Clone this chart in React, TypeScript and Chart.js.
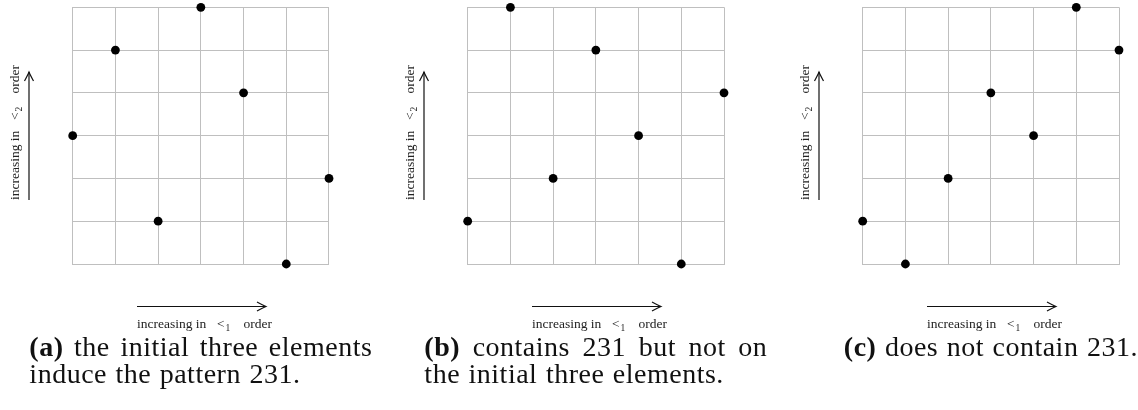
import React, { useEffect, useRef } from "react";
import { Chart, registerables } from "chart.js";

Chart.register(...registerables);

// ---------- data ----------
const positionsLt1 = [0, 1, 2, 3, 4, 5, 6];
const ranksA = [3, 5, 1, 6, 4, 0, 2];
const ranksB = [1, 6, 2, 5, 3, 0, 4];
const ranksC = [1, 0, 2, 4, 3, 6, 5];
const gridMin = 0;
const gridMax = 6;

const xLabelParts = ["increasing in", "<", "1", "order"];
const yLabelParts = ["increasing in", "<", "2", "order"];

const captionTags = ["(a)", "(b)", "(c)"];
const captionLine1 = ["the initial three elements", "contains 231 but not on", "does not contain 231."];
const captionLine2 = ["induce the pattern 231.", "the initial three elements.", ""];

// ---------- layout ----------
const W = 1138;
const H = 410;
const GRID_TOP = 7.3;
const GRID_BOTTOM = 264;
const panelLefts = [72.7, 467.7, 862.7];
const GRID_W = 256.3;
const CAPTION_W = 343;
const CAP_FONT = 28;
const CAP_LS = 0.5;
const LINE1_Y = 356;
const LINE2_Y = 383;
const SERIF = '"Liberation Serif", "Times New Roman", serif';

type Panel = { ranks: number[]; left: number; right: number; idx: number };

function drawArrowHead(ctx: CanvasRenderingContext2D, tipX: number, tipY: number, dir: "right" | "up") {
  ctx.save();
  ctx.translate(tipX, tipY);
  if (dir === "up") ctx.rotate(-Math.PI / 2);
  ctx.beginPath();
  ctx.moveTo(-9, -4.5);
  ctx.quadraticCurveTo(-3, -1.2, 0, 0);
  ctx.quadraticCurveTo(-3, 1.2, -9, 4.5);
  ctx.stroke();
  ctx.restore();
}

// draws axis label in local coords: start at x0, baseline y0
function drawAxisLabel(ctx: CanvasRenderingContext2D, parts: string[], x0: number, y0: number) {
  ctx.fillStyle = "#222";
  ctx.textBaseline = "alphabetic";
  ctx.textAlign = "left";
  ctx.font = `13.5px ${SERIF}`;
  ctx.fillText(parts[0], x0, y0);
  ctx.fillText(parts[1], x0 + 80, y0);
  const ltW = ctx.measureText(parts[1]).width;
  ctx.font = `9.5px ${SERIF}`;
  ctx.fillText(parts[2], x0 + 80 + ltW + 1, y0 + 3);
  ctx.font = `13.5px ${SERIF}`;
  const oW = ctx.measureText(parts[3]).width;
  ctx.fillText(parts[3], x0 + 135 - oW, y0);
}

function drawWords(
  ctx: CanvasRenderingContext2D,
  words: { t: string; b: boolean }[],
  x: number,
  y: number,
  justifyWidth: number | null
) {
  (ctx as any).letterSpacing = `${CAP_LS}px`;
  const widths = words.map((w) => {
    ctx.font = `${w.b ? "bold " : ""}${CAP_FONT}px ${SERIF}`;
    return ctx.measureText(w.t).width;
  });
  ctx.font = `${CAP_FONT}px ${SERIF}`;
  const spaceW = ctx.measureText(" ").width + 1;
  const sum = widths.reduce((a, b) => a + b, 0);
  let gap = spaceW;
  if (justifyWidth !== null && words.length > 1) gap = (justifyWidth - sum) / (words.length - 1);
  let cx = x;
  words.forEach((w, i) => {
    ctx.font = `${w.b ? "bold " : ""}${CAP_FONT}px ${SERIF}`;
    ctx.fillText(w.t, cx, y);
    cx += widths[i] + gap;
  });
  (ctx as any).letterSpacing = "0px";
  return cx - gap - x;
}

function makeAnnotations(p: Panel) {
  return {
    id: "annot" + p.idx,
    afterDraw(chart: any) {
      const ctx: CanvasRenderingContext2D = chart.ctx;
      const gl = chart.chartArea.left;
      ctx.save();
      ctx.strokeStyle = "#111";
      ctx.lineWidth = 1.2;
      // x arrow
      const ax0 = gl + 64.3;
      const ax1 = ax0 + 129;
      const ay = 306.5;
      ctx.beginPath();
      ctx.moveTo(ax0, ay);
      ctx.lineTo(ax1, ay);
      ctx.stroke();
      drawArrowHead(ctx, ax1, ay, "right");
      drawAxisLabel(ctx, xLabelParts, ax0, 328);
      // y arrow
      const yx = gl - 43.7;
      ctx.beginPath();
      ctx.moveTo(yx, 200);
      ctx.lineTo(yx, 72);
      ctx.stroke();
      drawArrowHead(ctx, yx, 72, "up");
      ctx.save();
      ctx.translate(gl - 54, 200);
      ctx.rotate(-Math.PI / 2);
      drawAxisLabel(ctx, yLabelParts, 0, 0);
      ctx.restore();
      // caption
      ctx.fillStyle = "#111";
      ctx.textAlign = "left";
      ctx.textBaseline = "alphabetic";
      const center = (chart.chartArea.left + chart.chartArea.right) / 2;
      const capLeft = center - CAPTION_W / 2;
      const l1 = [{ t: captionTags[p.idx], b: true }].concat(
        captionLine1[p.idx].split(" ").map((t) => ({ t, b: false }))
      );
      if (captionLine2[p.idx]) {
        drawWords(ctx, l1, capLeft, LINE1_Y, CAPTION_W);
        drawWords(
          ctx,
          captionLine2[p.idx].split(" ").map((t) => ({ t, b: false })),
          capLeft,
          LINE2_Y,
          null
        );
      } else {
        const off = document.createElement("canvas").getContext("2d") as CanvasRenderingContext2D;
        const w = drawWords(off, l1, 0, 0, null);
        drawWords(ctx, l1, center - w / 2, LINE1_Y, null);
      }
      ctx.restore();
    },
  };
}

function PanelChart({ p }: { p: Panel }) {
  const ref = useRef<HTMLCanvasElement | null>(null);
  useEffect(() => {
    if (!ref.current) return;
    const axis = {
      type: "linear" as const,
      min: gridMin,
      max: gridMax,
      ticks: { display: false, stepSize: 1 },
      grid: { color: "#bfbfbf", lineWidth: 1, drawTicks: false },
      border: { display: true, color: "#bfbfbf", width: 1 },
    };
    const chart = new Chart(ref.current, {
      type: "scatter",
      data: {
        datasets: [
          {
            data: positionsLt1.map((x, i) => ({ x, y: p.ranks[i] })),
            pointRadius: 4.4,
            pointHoverRadius: 4.4,
            pointBackgroundColor: "#000",
            pointBorderColor: "#000",
            pointBorderWidth: 0,
            showLine: false,
            clip: false as any,
          },
        ],
      },
      options: {
        animation: false,
        responsive: false,
        maintainAspectRatio: false,
        events: [],
        layout: {
          padding: { left: p.left, right: W - p.right, top: GRID_TOP, bottom: H - GRID_BOTTOM },
        },
        plugins: { legend: { display: false }, tooltip: { enabled: false } },
        scales: { x: axis, y: axis },
      },
      plugins: [makeAnnotations(p)],
    });
    return () => chart.destroy();
  }, [p]);
  return (
    <canvas
      ref={ref}
      width={W}
      height={H}
      style={{ position: "absolute", left: 0, top: 0, width: W, height: H }}
    />
  );
}

const panels: Panel[] = [ranksA, ranksB, ranksC].map((ranks, idx) => ({
  ranks,
  left: panelLefts[idx],
  right: panelLefts[idx] + GRID_W,
  idx,
}));

export default function App() {
  return (
    <div style={{ position: "fixed", left: 0, top: 0, width: W, height: H, background: "#fff" }}>
      {panels.map((p) => (
        <PanelChart key={p.idx} p={p} />
      ))}
    </div>
  );
}
